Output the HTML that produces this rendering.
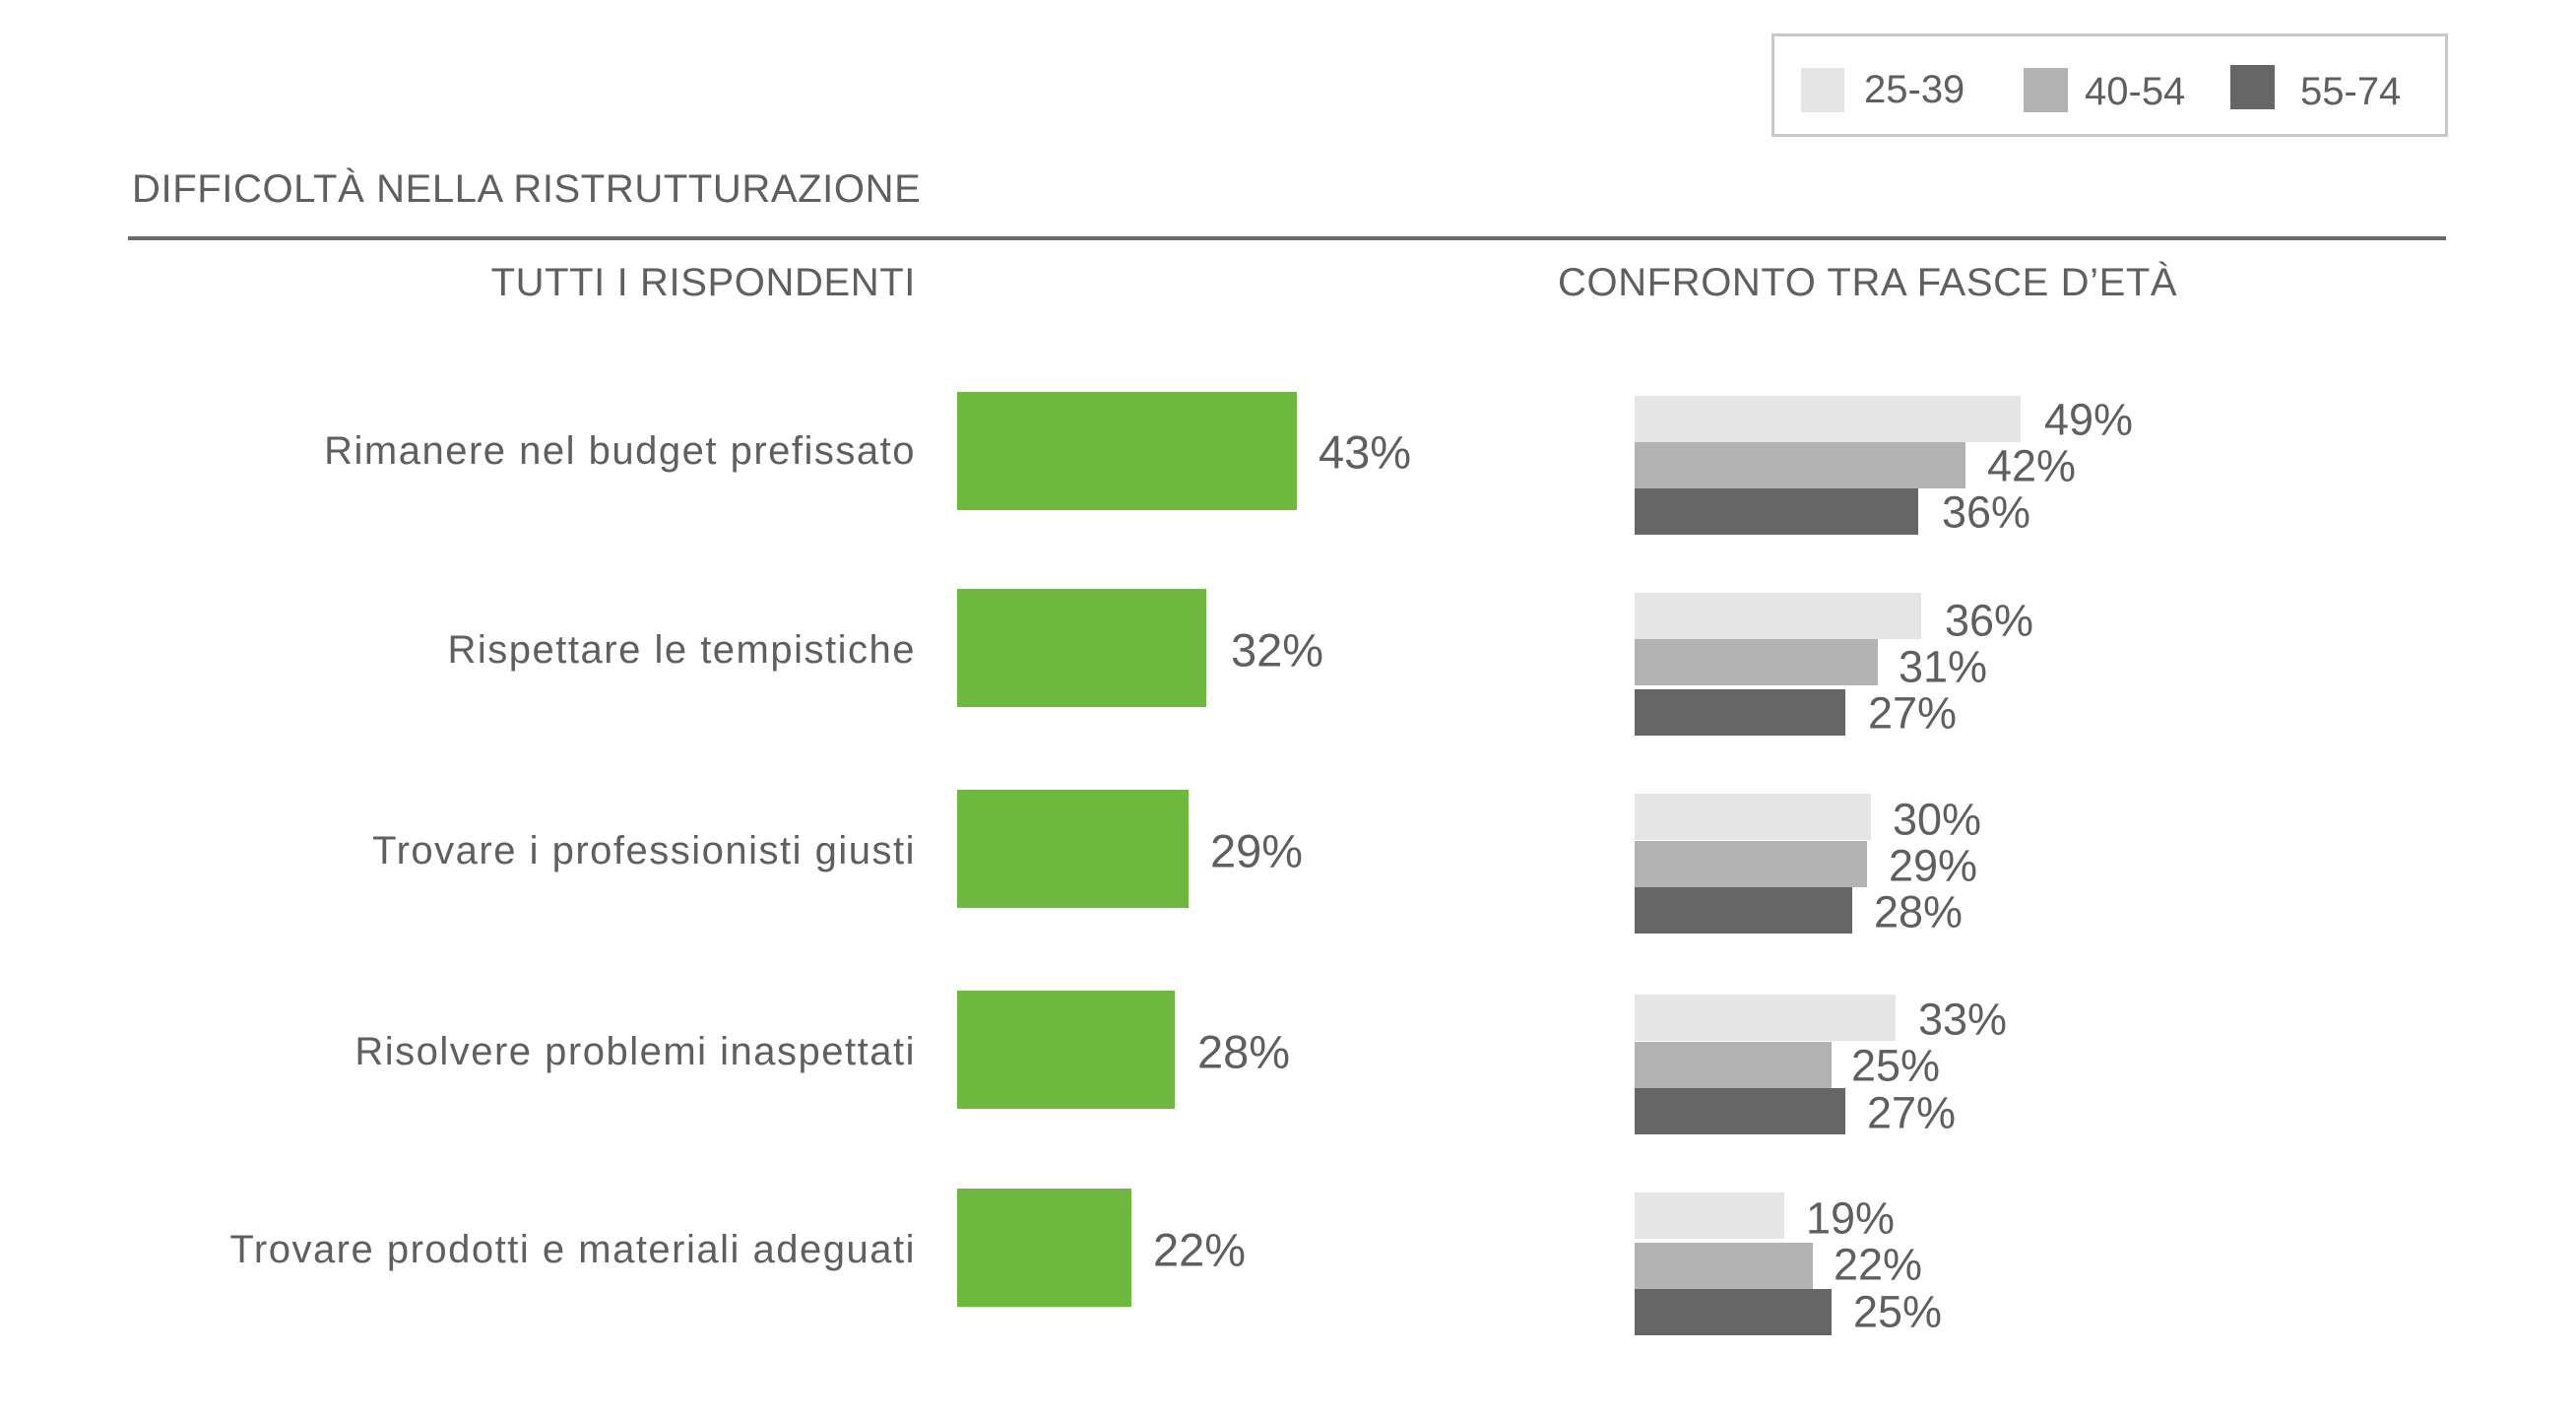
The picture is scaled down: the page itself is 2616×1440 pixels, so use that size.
<!DOCTYPE html>
<html><head><meta charset="utf-8"><style>
body{margin:0;width:2616px;height:1440px;background:#fff;position:relative;overflow:hidden;font-family:"Liberation Sans",sans-serif;color:#5f5f5f}
.a{position:absolute;white-space:nowrap;line-height:1}
.g{position:absolute;background:#6fb83f;left:972px;height:120px}
.b{position:absolute;left:1660px;height:47px}
.l{font-size:40px;transform:translateY(-50%)}
.c{letter-spacing:1.5px}
.t{letter-spacing:0.6px}
.p{font-size:47px;transform:translateY(-50%)}
.q{font-size:45px;transform:translateY(-50%)}
</style></head><body>
<div class="a" style="left:1799px;top:34px;width:681px;height:99px;border:3px solid #c8c8c8"></div>
<div class="a" style="left:1829px;top:69px;width:44px;height:45px;background:#e5e5e5"></div>
<div class="a" style="left:1893px;top:91px;font-size:40px;transform:translateY(-50%)">25-39</div>
<div class="a" style="left:2055px;top:69px;width:45px;height:45px;background:#b3b3b3"></div>
<div class="a" style="left:2117px;top:93px;font-size:40px;transform:translateY(-50%)">40-54</div>
<div class="a" style="left:2265px;top:66px;width:45px;height:45px;background:#666"></div>
<div class="a" style="left:2336px;top:93px;font-size:40px;transform:translateY(-50%)">55-74</div>

<div class="a l t" style="left:134px;top:192px">DIFFICOLTÀ NELLA RISTRUTTURAZIONE</div>
<div class="a" style="left:130px;top:240px;width:2354px;height:4px;background:#6a6a6a"></div>
<div class="a l t" style="right:1686px;top:287px">TUTTI I RISPONDENTI</div>
<div class="a l t" style="left:1582px;top:287px">CONFRONTO TRA FASCE D’ETÀ</div>

<div class="a l c" style="right:1686px;top:458px">Rimanere nel budget prefissato</div>
<div class="a l c" style="right:1686px;top:660px">Rispettare le tempistiche</div>
<div class="a l c" style="right:1686px;top:864px">Trovare i professionisti giusti</div>
<div class="a l c" style="right:1686px;top:1068px">Risolvere problemi inaspettati</div>
<div class="a l c" style="right:1686px;top:1269px">Trovare prodotti e materiali adeguati</div>

<div class="g" style="top:398px;width:345px"></div><div class="a p" style="left:1339px;top:459px">43%</div>
<div class="g" style="top:598px;width:253px"></div><div class="a p" style="left:1250px;top:660px">32%</div>
<div class="g" style="top:802px;width:235px"></div><div class="a p" style="left:1229px;top:864px">29%</div>
<div class="g" style="top:1006px;width:221px"></div><div class="a p" style="left:1216px;top:1068px">28%</div>
<div class="g" style="top:1207px;width:177px"></div><div class="a p" style="left:1171px;top:1269px">22%</div>

<div class="b" style="top:402px;width:392px;background:#e5e5e5"></div><div class="a q" style="left:2076px;top:426px">49%</div>
<div class="b" style="top:449px;width:336px;background:#b3b3b3"></div><div class="a q" style="left:2018px;top:473px">42%</div>
<div class="b" style="top:496px;width:288px;background:#666"></div><div class="a q" style="left:1972px;top:520px">36%</div>

<div class="b" style="top:602px;width:291px;background:#e5e5e5"></div><div class="a q" style="left:1975px;top:630px">36%</div>
<div class="b" style="top:649px;width:247px;background:#b3b3b3"></div><div class="a q" style="left:1928px;top:677px">31%</div>
<div class="b" style="top:700px;width:214px;background:#666"></div><div class="a q" style="left:1897px;top:724px">27%</div>

<div class="b" style="top:806px;width:240px;background:#e5e5e5"></div><div class="a q" style="left:1922px;top:832px">30%</div>
<div class="b" style="top:854px;width:236px;background:#b3b3b3"></div><div class="a q" style="left:1918px;top:879px">29%</div>
<div class="b" style="top:901px;width:221px;background:#666"></div><div class="a q" style="left:1903px;top:926px">28%</div>

<div class="b" style="top:1010px;width:265px;background:#e5e5e5"></div><div class="a q" style="left:1948px;top:1035px">33%</div>
<div class="b" style="top:1058px;width:200px;background:#b3b3b3"></div><div class="a q" style="left:1880px;top:1082px">25%</div>
<div class="b" style="top:1105px;width:214px;background:#666"></div><div class="a q" style="left:1896px;top:1130px">27%</div>

<div class="b" style="top:1211px;width:152px;background:#e5e5e5"></div><div class="a q" style="left:1834px;top:1237px">19%</div>
<div class="b" style="top:1262px;width:181px;background:#b3b3b3"></div><div class="a q" style="left:1862px;top:1284px">22%</div>
<div class="b" style="top:1309px;width:200px;background:#666"></div><div class="a q" style="left:1882px;top:1332px">25%</div>
</body></html>
